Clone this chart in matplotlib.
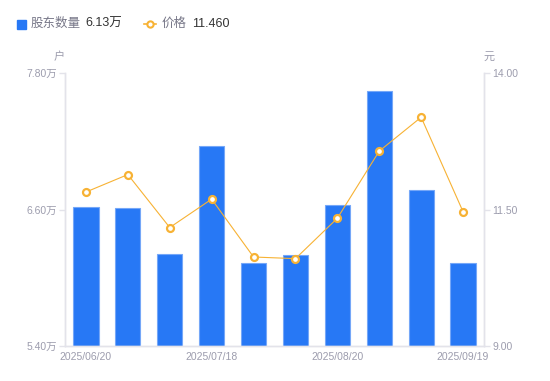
import numpy as np
import matplotlib
matplotlib.use("Agg")
import matplotlib.pyplot as plt
from matplotlib.lines import Line2D
from matplotlib.patches import Rectangle

plt.rcParams['font.family'] = ['Liberation Sans', 'Noto Sans CJK SC', 'DejaVu Sans']

# 数据
dates = ["2025/06/20", "", "", "2025/07/18", "", "", "2025/08/20", "", "", "2025/09/19"]
holders = [6.62, 6.61, 6.21, 7.16, 6.13, 6.20, 6.64, 7.64, 6.77, 6.13]  # 万户
prices = [11.82, 12.14, 11.17, 11.69, 10.63, 10.60, 11.34, 12.57, 13.19, 11.46]
left_ticks = [5.40, 6.60, 7.80]
right_ticks = [9.00, 11.50, 14.00]

blue = "#2778f5"
orange = "#f7b234"
axis_col = "#e3e3ea"
tick_col = "#9c9cad"

fig = plt.figure(figsize=(5.5, 3.81), dpi=100)
ax = fig.add_axes([65 / 550, 35 / 381, 419 / 550, 273 / 381])
x = np.arange(len(holders))
ax.bar(x, holders, width=0.6, color=blue, edgecolor="#75a7f8", linewidth=0.8, zorder=2)
ax.set_xlim(-0.5, len(holders) - 0.5)
ax.set_ylim(left_ticks[0], left_ticks[-1])
ax.set_yticks(left_ticks)
ax.set_yticklabels([f"{v:.2f}万" for v in left_ticks])
ax.set_xticks(x)
ax.set_xticklabels(dates)

ax2 = ax.twinx()
ax2.plot(x, prices, color=orange, linewidth=0.8, marker="o", markersize=5,
         markerfacecolor="white", markeredgecolor=orange, markeredgewidth=1.6, zorder=3)
ax2.set_ylim(right_ticks[0], right_ticks[-1])
ax2.set_yticks(right_ticks)
ax2.set_yticklabels([f"{v:.2f}" for v in right_ticks])

for a in (ax, ax2):
    for s in a.spines.values():
        s.set_color(axis_col)
        s.set_linewidth(1)
    a.spines['top'].set_visible(False)
    a.tick_params(axis='y', colors=axis_col, labelcolor=tick_col, labelsize=7.5, length=4, width=1, pad=2)
    a.tick_params(axis='x', length=0, labelcolor=tick_col, labelsize=7.5, pad=4)

fig.text(59 / 550, 1 - 57 / 381, "户", color=tick_col, fontsize=8, ha="center", va="center")
fig.text(489 / 550, 1 - 57 / 381, "元", color=tick_col, fontsize=8, ha="center", va="center")

# 图例
fig.add_artist(Rectangle((17 / 550, 1 - 29 / 381), 9 / 550, 9 / 381, color=blue, transform=fig.transFigure))
fig.text(31 / 550, 1 - 24 / 381, "股东数量", color="#777788", fontsize=9, va="center")
fig.text(85 / 550, 1 - 24 / 381, f"{holders[-1]:.2f}万", color="#333333", fontsize=9, va="center")
fig.add_artist(Line2D([144 / 550, 156 / 550], [1 - 24 / 381, 1 - 24 / 381], color=orange, linewidth=1.2,
                      transform=fig.transFigure))
fig.add_artist(Line2D([150 / 550], [1 - 24 / 381], marker="o", markersize=4.5, markerfacecolor="white",
                      markeredgecolor=orange, markeredgewidth=1.5, transform=fig.transFigure))
fig.text(162 / 550, 1 - 24 / 381, "价格", color="#777788", fontsize=9, va="center")
fig.text(192 / 550, 1 - 24 / 381, f"{prices[-1]:.3f}", color="#333333", fontsize=9, va="center")

fig.savefig("out.png", dpi=100)
